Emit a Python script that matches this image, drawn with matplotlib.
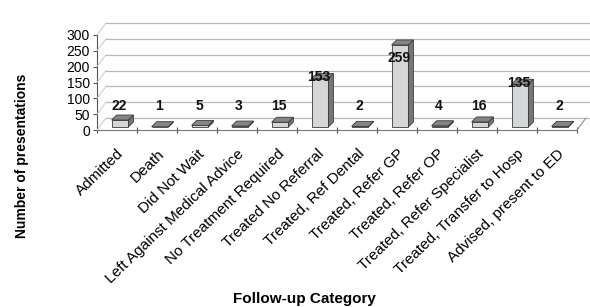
import numpy as np
import matplotlib
matplotlib.use("Agg")
import matplotlib.pyplot as plt
from matplotlib.patches import Polygon
from matplotlib.transforms import offset_copy

plt.rcParams['font.family'] = ['Liberation Sans', 'DejaVu Sans']

categories = ['Admitted', 'Death', 'Did Not Wait', 'Left Against Medical Advice',
              'No Treatment Required', 'Treated No Referral', 'Treated, Ref Dental',
              'Treated, Refer GP', 'Treated, Refer OP', 'Treated, Refer Specialist',
              'Treated, Transfer to Hosp', 'Advised, present to ED']
counts = [22, 1, 5, 3, 15, 153, 2, 259, 4, 16, 135, 2]
y_ticks = [0, 50, 100, 150, 200, 250, 300]

W, H = 590, 307
fig = plt.figure(figsize=(W / 100, H / 100), dpi=100)
# plot area: x from 97 to 577 px, y zero at 130 px, 300 at 35 px
ax = fig.add_axes([97 / W, (H - 130) / H, 480 / W, 95 / H])
ax.set_xlim(0, len(categories))
ax.set_ylim(0, 300)

# pseudo-3D depth offsets (pixels)
back = offset_copy(ax.transData, fig, x=9, y=12, units='dots')
mid = offset_copy(ax.transData, fig, x=3, y=3, units='dots')
px_x = len(categories) / 480.0      # data units per pixel
px_y = 300 / 95.0

# back wall gridlines and left-wall connectors
for yv in y_ticks:
    ax.plot([0, 12.3], [yv, yv], color='#b8b8b8', lw=0.9, transform=back,
            clip_on=False, zorder=1)
    ax.annotate('', xy=(0, yv), xycoords=back, xytext=(0, yv),
                textcoords=ax.transData,
                arrowprops=dict(arrowstyle='-', color='#c8c8c8', lw=0.7,
                                shrinkA=0, shrinkB=0))
# floor right edge
ax.annotate('', xy=(12, 0), xycoords=back, xytext=(12, 0),
            textcoords=ax.transData,
            arrowprops=dict(arrowstyle='-', color='#909090', lw=0.8,
                            shrinkA=0, shrinkB=0))

# bars
xc = np.arange(len(categories)) + 0.5
bw = 0.42
dx_face = 5 * px_x
dy_face = 5 * px_y
front_col, top_col, side_col, edge_col = '#d4d6d8', '#858585', '#767676', '#3a3a3a'
ax.bar(xc, counts, width=bw, color=front_col, edgecolor=edge_col, linewidth=0.6,
       transform=mid, zorder=3)
for x, v in zip(xc, counts):
    l, r = x - bw / 2, x + bw / 2
    top = Polygon([(l, v), (r, v), (r + dx_face, v + dy_face), (l + dx_face, v + dy_face)],
                  closed=True, facecolor=top_col, edgecolor=edge_col, lw=0.6,
                  transform=mid, zorder=3)
    side = Polygon([(r, 0), (r + dx_face, dy_face), (r + dx_face, v + dy_face), (r, v)],
                   closed=True, facecolor=side_col, edgecolor=edge_col, lw=0.6,
                   transform=mid, zorder=3)
    ax.add_patch(side)
    ax.add_patch(top)
    ax.text(x + 0.05, min(max(v + 14, 75), 228), str(v), ha='center', va='center',
            fontsize=10, fontweight='bold', color='#111111', zorder=5)

# axes styling
for s in ['top', 'right']:
    ax.spines[s].set_visible(False)
ax.spines['left'].set_color('#555555')
ax.spines['bottom'].set_color('#777777')
ax.set_yticks(y_ticks)
ax.tick_params(axis='y', labelsize=10, length=3, width=0.8, color='#555555', pad=2)
ax.set_xticks(np.arange(len(categories) + 1))
ax.set_xticklabels([])
ax.tick_params(axis='x', which='major', direction='inout', length=5, width=0.8,
               color='#555555')
ax.set_xticks(xc, minor=True)
ax.set_xticklabels(categories, minor=True, rotation=44, ha='right',
                   rotation_mode='anchor', fontsize=11)
ax.tick_params(axis='x', which='minor', length=0, pad=12)
ax.patch.set_visible(False)

fig.text(22 / W, 1 - 156 / H, 'Number of presentations', rotation=90,
         ha='center', va='center', fontsize=10, fontweight='bold')
fig.text(304 / W, 1 - 299 / H, 'Follow-up Category', ha='center', va='center',
         fontsize=11, fontweight='bold',
         family=['Liberation Sans Narrow', 'Liberation Sans'])

fig.savefig('out.png', dpi=100)
